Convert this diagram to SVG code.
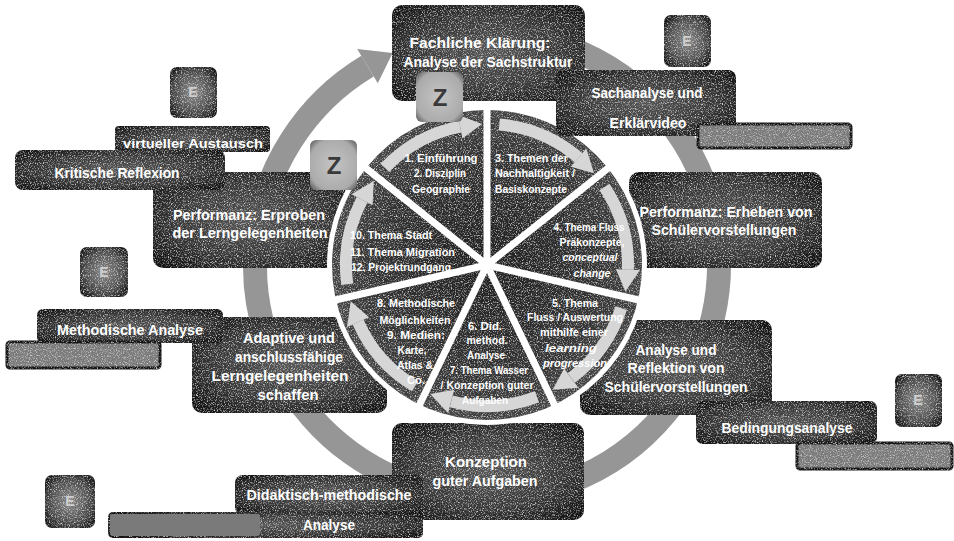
<svg xmlns="http://www.w3.org/2000/svg" width="954" height="541" viewBox="0 0 954 541">
<style>
.t{font-family:"Liberation Sans",Arial,sans-serif;fill:#fff;font-weight:bold;text-anchor:middle}
.b{font-size:15px}
.s{font-size:11px}
.st{text-anchor:start}
.i{font-style:italic}
.box{fill:url(#gb);filter:url(#grain)}
.ebox{fill:url(#ge);filter:url(#grain)}
.zbox{fill:url(#gz)}
.strip{fill:#7a7a7a;stroke:#141414;stroke-width:3;filter:url(#grain)}
.el{font-family:"Liberation Sans",Arial,sans-serif;font-size:14px;font-weight:bold;fill:#cfcfcf;text-anchor:middle}
.zl{font-family:"Liberation Sans",Arial,sans-serif;font-size:24px;font-weight:bold;fill:#3a3a3a;text-anchor:middle}
.inarr{fill:none;stroke:#d6d6d6;stroke-width:12}
.inhead{fill:#d6d6d6}
</style>
<defs>
<filter id="grain" x="-0.05" y="-0.15" width="1.1" height="1.3" color-interpolation-filters="sRGB">
<feTurbulence type="fractalNoise" baseFrequency="0.85" numOctaves="2" seed="7" result="n"/>
<feColorMatrix in="n" type="matrix" values="0 0 0 0 0.8  0 0 0 0 0.8  0 0 0 0 0.8  3.2 0 0 0 -1.55" result="sp"/>
<feComposite in="sp" in2="SourceGraphic" operator="in" result="sp2"/>
<feMerge><feMergeNode in="SourceGraphic"/><feMergeNode in="sp2"/></feMerge>
</filter>
<radialGradient id="gb" cx="50%" cy="50%" r="65%">
<stop offset="0" stop-color="#555"/>
<stop offset="0.6" stop-color="#363636"/>
<stop offset="1" stop-color="#121212"/>
</radialGradient>
<radialGradient id="ge" cx="50%" cy="50%" r="60%">
<stop offset="0" stop-color="#8a8a8a"/>
<stop offset="0.7" stop-color="#4a4a4a"/>
<stop offset="1" stop-color="#1a1a1a"/>
</radialGradient>
<radialGradient id="gz" cx="50%" cy="50%" r="65%">
<stop offset="0" stop-color="#c4c4c4"/>
<stop offset="0.8" stop-color="#ababab"/>
<stop offset="1" stop-color="#6a6a6a"/>
</radialGradient>
<radialGradient id="gp" cx="487" cy="265" r="160" gradientUnits="userSpaceOnUse">
<stop offset="0" stop-color="#1e1e1e"/>
<stop offset="0.7" stop-color="#333"/>
<stop offset="1" stop-color="#454545"/>
</radialGradient>
</defs>

<g id="connectors">
<path d="M446.7 36.5 A232 232 0 1 1 367.5 66.1" fill="none" stroke="#969696" stroke-width="24"/>
<polygon points="357.2,49 377.8,83.3 392.6,53.1" fill="#969696"/>
</g>

<g id="n-fachliche">
<rect x="392" y="5" width="193" height="96" rx="10" class="box"/>
</g>
<g id="n-erheben">
<rect x="629" y="172" width="193" height="96" rx="10" class="box"/>
<text class="t b" x="726" y="217" textLength="173" lengthAdjust="spacingAndGlyphs">Performanz: Erheben von</text>
<text class="t b" x="724" y="235" textLength="145" lengthAdjust="spacingAndGlyphs">Schülervorstellungen</text>
</g>
<g id="n-reflektion">
<rect x="580" y="320" width="192" height="95" rx="10" class="box"/>
</g>
<g id="n-konzeption">
<rect x="392" y="423" width="192" height="97" rx="10" class="box"/>
</g>
<g id="n-adaptive">
<rect x="192" y="317" width="195" height="96" rx="10" class="box"/>
</g>
<g id="n-erproben">
<rect x="153" y="172" width="193" height="96" rx="10" class="box"/>
</g>

<g id="pie">
<circle cx="487" cy="265" r="160" fill="#fff"/>
<circle cx="487" cy="265" r="155" fill="url(#gp)" filter="url(#grain)"/>
<path class="inarr" d="M499.3 124.5 A141 141 0 0 1 578.5 157.7"/>
<polygon class="inhead" points="586.2,148.5 570.7,166.8 594.1,173.3"/>
<path class="inarr" d="M604.5 187 A141 141 0 0 1 627.9 269.6"/>
<polygon class="inhead" points="639.9,270 615.9,269.2 625.5,291.6"/>
<path class="inarr" d="M621.2 308.2 A141 141 0 0 1 571.3 378"/>
<polygon class="inhead" points="578.4,387.7 564.1,368.4 552.6,389.8"/>
<path class="inarr" d="M536.9 396.9 A141 141 0 0 1 451.2 401.4"/>
<polygon class="inhead" points="448.1,413 454.2,389.8 430.3,394.1"/>
<path class="inarr" d="M415 386.2 A141 141 0 0 1 358 322"/>
<polygon class="inhead" points="347.1,326.9 369,317.2 350.7,301.2"/>
<path class="inarr" d="M347.3 284.3 A141 141 0 0 1 362 199.7"/>
<polygon class="inhead" points="351.4,194.2 372.6,205.3 373.8,180.9"/>
<path class="inarr" d="M384.9 167.8 A141 141 0 0 1 460.1 126.6"/>
<polygon class="inhead" points="457.8,114.8 462.4,138.4 482.1,124.1"/>
<g stroke="#fff" stroke-width="7">
<line x1="487" y1="265" x2="487" y2="104"/>
<line x1="487" y1="265" x2="612" y2="165"/>
<line x1="487" y1="265" x2="643" y2="301"/>
<line x1="487" y1="265" x2="557" y2="410"/>
<line x1="487" y1="265" x2="417" y2="410"/>
<line x1="487" y1="265" x2="331" y2="301"/>
<line x1="487" y1="265" x2="362" y2="165"/>
</g>
<text class="t s" x="441" y="162" textLength="73" lengthAdjust="spacingAndGlyphs">1. Einführung</text>
<text class="t s" x="440" y="177" textLength="52" lengthAdjust="spacingAndGlyphs">2. Disziplin</text>
<text class="t s" x="441" y="193" textLength="58" lengthAdjust="spacingAndGlyphs">Geographie</text>
<text class="t s st" x="495" y="162" textLength="73" lengthAdjust="spacingAndGlyphs">3. Themen der</text>
<text class="t s st" x="495" y="177" textLength="80" lengthAdjust="spacingAndGlyphs">Nachhaltigkeit /</text>
<text class="t s st" x="495" y="193" textLength="72" lengthAdjust="spacingAndGlyphs">Basiskonzepte</text>
<text class="t s" x="589" y="231" textLength="71" lengthAdjust="spacingAndGlyphs">4. Thema Fluss</text>
<text class="t s" x="592" y="246" textLength="65" lengthAdjust="spacingAndGlyphs">Präkonzepte,</text>
<text class="t s i" x="590" y="261" textLength="55" lengthAdjust="spacingAndGlyphs">conceptual</text>
<text class="t s i" x="592" y="277" textLength="37" lengthAdjust="spacingAndGlyphs">change</text>
<text class="t s" x="575" y="307" textLength="46" lengthAdjust="spacingAndGlyphs">5. Thema</text>
<text class="t s" x="575" y="321" textLength="96" lengthAdjust="spacingAndGlyphs">Fluss / Auswertung</text>
<text class="t s" x="574" y="336" textLength="68" lengthAdjust="spacingAndGlyphs">mithilfe einer</text>
<text class="t s i" x="571" y="352" textLength="52" lengthAdjust="spacingAndGlyphs">learning</text>
<text class="t s i" x="575" y="367" textLength="64" lengthAdjust="spacingAndGlyphs">progression</text>
<text class="t s" x="485" y="330" textLength="34" lengthAdjust="spacingAndGlyphs">6. Did.</text>
<text class="t s" x="487" y="344" textLength="41" lengthAdjust="spacingAndGlyphs">method.</text>
<text class="t s" x="486" y="359" textLength="38" lengthAdjust="spacingAndGlyphs">Analyse</text>
<text class="t s" x="489" y="374" textLength="78" lengthAdjust="spacingAndGlyphs">7. Thema Wasser</text>
<text class="t s" x="487" y="389" textLength="93" lengthAdjust="spacingAndGlyphs">/ Konzeption guter</text>
<text class="t s" x="485" y="404" textLength="46" lengthAdjust="spacingAndGlyphs">Aufgaben</text>
<text class="t s" x="416" y="307" textLength="78" lengthAdjust="spacingAndGlyphs">8. Methodische</text>
<text class="t s" x="415" y="324" textLength="71" lengthAdjust="spacingAndGlyphs">Möglichkeiten</text>
<text class="t s" x="416" y="339" textLength="58" lengthAdjust="spacingAndGlyphs">9. Medien:</text>
<text class="t s" x="412" y="354" textLength="29" lengthAdjust="spacingAndGlyphs">Karte,</text>
<text class="t s" x="415" y="369" textLength="36" lengthAdjust="spacingAndGlyphs">Atlas &amp;</text>
<text class="t s" x="416" y="384" textLength="18" lengthAdjust="spacingAndGlyphs">Co.</text>
<text class="t s st" x="350" y="239" textLength="82" lengthAdjust="spacingAndGlyphs">10. Thema Stadt</text>
<text class="t s st" x="350" y="256" textLength="105" lengthAdjust="spacingAndGlyphs">11. Thema Migration</text>
<text class="t s st" x="351" y="271" textLength="100" lengthAdjust="spacingAndGlyphs">12. Projektrundgang</text>
</g>

<g id="n-fachliche-t">
<text class="t b" x="480" y="48" textLength="141" lengthAdjust="spacingAndGlyphs">Fachliche Klärung:</text>
<text class="t b" x="488" y="67" textLength="169" lengthAdjust="spacingAndGlyphs">Analyse der Sachstruktur</text>
</g>
<g id="n-reflektion-t">
<text class="t b" x="676" y="355" textLength="81" lengthAdjust="spacingAndGlyphs">Analyse und</text>
<text class="t b" x="676" y="373" textLength="97" lengthAdjust="spacingAndGlyphs">Reflektion von</text>
<text class="t b" x="676" y="392" textLength="143" lengthAdjust="spacingAndGlyphs">Schülervorstellungen</text>
</g>
<g id="n-adaptive-t">
<text class="t b" x="289" y="343" textLength="92" lengthAdjust="spacingAndGlyphs">Adaptive und</text>
<text class="t b" x="289" y="362" textLength="108" lengthAdjust="spacingAndGlyphs">anschlussfähige</text>
<text class="t b" x="280" y="381" textLength="137" lengthAdjust="spacingAndGlyphs">Lerngelegenheiten</text>
<text class="t b" x="288" y="400" textLength="61" lengthAdjust="spacingAndGlyphs">schaffen</text>
</g>

<g id="n-sachanalyse">
<rect x="556" y="70" width="180" height="66" rx="8" class="box"/>
<text class="t b" x="647" y="98" textLength="111" lengthAdjust="spacingAndGlyphs">Sachanalyse und</text>
<text class="t b" x="648" y="128" textLength="77" lengthAdjust="spacingAndGlyphs">Erklärvideo</text>
</g>
<g id="n-strip1"><rect x="698" y="124" width="153" height="24" rx="3" class="strip"/></g>
<g id="n-e1"><rect x="664" y="15" width="47" height="52" rx="7" class="ebox"/><text class="el" x="687" y="46">E</text></g>

<g id="n-virtuell">
<rect x="115" y="126" width="155" height="26" rx="4" class="box"/>
<text class="t" style="font-size:13px" x="193" y="148" textLength="140" lengthAdjust="spacingAndGlyphs">virtueller Austausch</text>
</g>
<g id="n-kritisch">
<rect x="15" y="150" width="210" height="40" rx="8" class="box"/>
<text class="t b" x="117" y="178" textLength="125" lengthAdjust="spacingAndGlyphs">Kritische Reflexion</text>
</g>
<g id="n-erproben-t">
<text class="t b" x="249" y="220" textLength="152" lengthAdjust="spacingAndGlyphs">Performanz: Erproben</text>
<text class="t b" x="250" y="238" textLength="155" lengthAdjust="spacingAndGlyphs">der Lerngelegenheiten</text>
</g>
<g id="n-e2"><rect x="170" y="67" width="47" height="51" rx="7" class="ebox"/><text class="el" x="193" y="97">E</text></g>

<g id="n-methodisch">
<rect x="37" y="309" width="186" height="34" rx="6" class="box"/>
<text class="t b" x="130" y="335" textLength="146" lengthAdjust="spacingAndGlyphs">Methodische Analyse</text>
</g>
<g id="n-strip2"><rect x="7" y="342" width="153" height="26" rx="3" class="strip"/></g>
<g id="n-e3"><rect x="80" y="247" width="48" height="50" rx="7" class="ebox"/><text class="el" x="104" y="277">E</text></g>

<g id="n-bedingung">
<rect x="696" y="401" width="181" height="43" rx="7" class="box"/>
<text class="t b" x="787" y="433" textLength="131" lengthAdjust="spacingAndGlyphs">Bedingungsanalyse</text>
</g>
<g id="n-strip3"><rect x="797" y="443" width="155" height="26" rx="3" class="strip"/></g>
<g id="n-e4"><rect x="895" y="374" width="47" height="53" rx="7" class="ebox"/><text class="el" x="918" y="405">E</text></g>

<g id="n-konzeption-t">
<text class="t b" x="486" y="467" textLength="82" lengthAdjust="spacingAndGlyphs">Konzeption</text>
<text class="t b" x="485" y="486" textLength="105" lengthAdjust="spacingAndGlyphs">guter Aufgaben</text>
</g>
<g id="n-didaktisch">
<rect x="235" y="475" width="188" height="40" rx="8" class="box"/>
<rect x="108" y="512" width="315" height="26" rx="5" class="box"/>
<rect x="110" y="514" width="150" height="22" rx="3" fill="#7a7a7a"/>
<text class="t b" x="329" y="500" textLength="165" lengthAdjust="spacingAndGlyphs">Didaktisch-methodische</text>
<text class="t b" x="329" y="530" textLength="52" lengthAdjust="spacingAndGlyphs">Analyse</text>
</g>
<g id="n-e5"><rect x="45" y="475" width="50" height="53" rx="7" class="ebox"/><text class="el" x="70" y="506">E</text></g>

<g id="n-z1"><rect x="416" y="72" width="47" height="50" rx="6" class="zbox"/><text class="zl" x="440" y="106">Z</text></g>
<g id="n-z2"><rect x="310" y="140" width="47" height="50" rx="6" class="zbox"/><text class="zl" x="334" y="174">Z</text></g>
</svg>
